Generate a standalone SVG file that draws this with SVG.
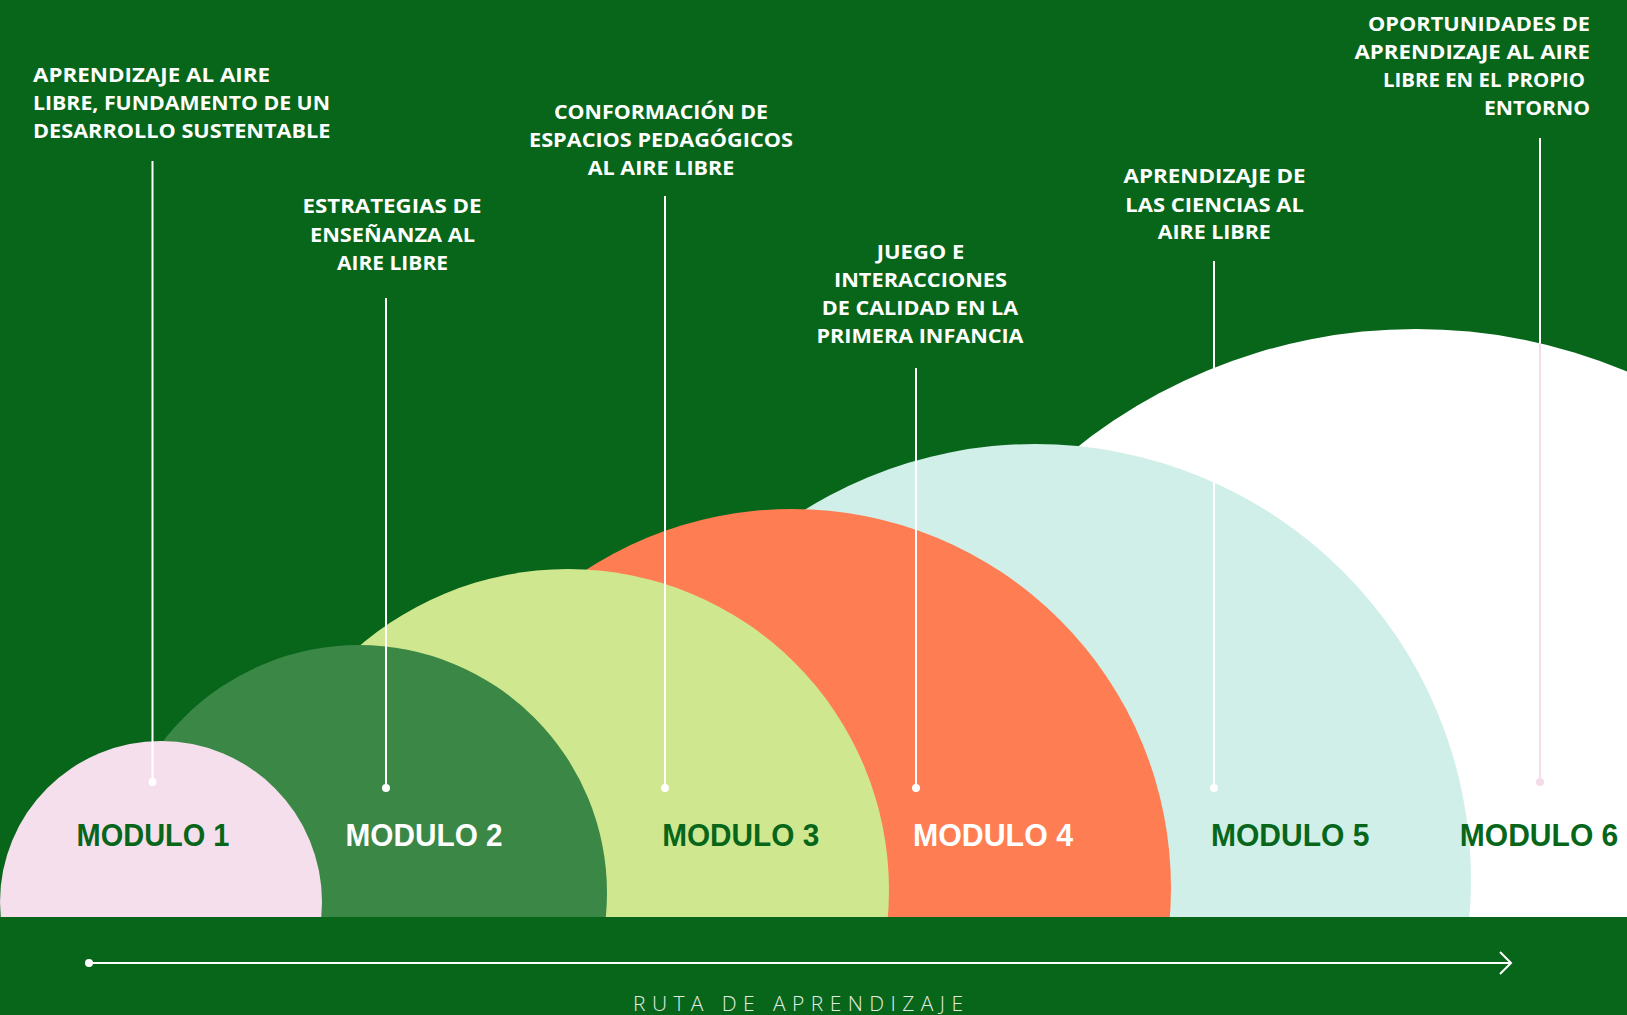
<svg xmlns="http://www.w3.org/2000/svg" width="1627" height="1015" viewBox="0 0 1627 1015">
<style>
.title{fill:#ffffff;font-family:"Open Sans","Liberation Sans",sans-serif;font-weight:700;font-size:20px}
.mod{font-family:"Liberation Sans","Open Sans",sans-serif;font-weight:700;font-size:30.5px}
.dk{fill:#07661a}
.wh{fill:#ffffff}
.lead{stroke:#ffffff;stroke-width:2;fill:none}
.dot{fill:#ffffff}
</style>
<rect x="0" y="0" width="1627" height="1015" fill="#07661a"/>
<g id="modulo-6"><circle cx="1416" cy="874" r="545" fill="#ffffff"/></g>
<g id="modulo-5"><circle cx="1035" cy="880" r="436" fill="#d0efe8"/></g>
<g id="modulo-4"><circle cx="792" cy="888" r="379" fill="#ff7d52"/></g>
<g id="modulo-3"><circle cx="568" cy="890" r="321" fill="#cfe88f"/></g>
<g id="modulo-2"><circle cx="359" cy="893" r="248" fill="#3a8746"/></g>
<g id="modulo-1"><circle cx="161" cy="902" r="161" fill="#f6dfed"/></g>
<rect id="banda" x="0" y="917" width="1627" height="98" fill="#07661a"/>

<g id="connectors">
<line class="lead" x1="152.5" y1="161" x2="152.5" y2="782"/><circle class="dot" cx="152.5" cy="782" r="4"/>
<line class="lead" x1="386" y1="298" x2="386" y2="788"/><circle class="dot" cx="386" cy="788" r="4"/>
<line class="lead" x1="665" y1="196" x2="665" y2="788"/><circle class="dot" cx="665" cy="788" r="4"/>
<line class="lead" x1="916" y1="368" x2="916" y2="788"/><circle class="dot" cx="916" cy="788" r="4"/>
<line class="lead" x1="1214" y1="261" x2="1214" y2="788"/><circle class="dot" cx="1214" cy="788" r="4"/>
<line class="lead" x1="1540" y1="138" x2="1540" y2="343"/>
<line x1="1540" y1="343" x2="1540" y2="782" stroke="#f4dce9" stroke-width="2"/><circle cx="1540" cy="782" r="4" fill="#f4dce9"/>
<circle class="dot" cx="89" cy="963" r="4"/>
<line class="lead" x1="89" y1="963" x2="1510" y2="963"/>
<polyline class="lead" points="1500,952 1511,963 1500,974"/>
</g>

<g id="label-1"><text class="mod dk" x="76.5" y="846" textLength="153" lengthAdjust="spacingAndGlyphs">MODULO 1</text>
<text class="title"><tspan x="33" y="82" textLength="237" lengthAdjust="spacingAndGlyphs">APRENDIZAJE AL AIRE</tspan><tspan x="33" y="110" textLength="297" lengthAdjust="spacingAndGlyphs">LIBRE, FUNDAMENTO DE UN</tspan><tspan x="33" y="138.3" textLength="297.5" lengthAdjust="spacingAndGlyphs">DESARROLLO SUSTENTABLE</tspan></text></g>

<g id="label-2"><text class="mod wh" x="345.6" y="846" textLength="157" lengthAdjust="spacingAndGlyphs">MODULO 2</text>
<text class="title" text-anchor="middle"><tspan x="392" y="213.3" textLength="179" lengthAdjust="spacingAndGlyphs">ESTRATEGIAS DE</tspan><tspan x="392.5" y="241.7" textLength="165" lengthAdjust="spacingAndGlyphs">ENSEÑANZA AL</tspan><tspan x="392.5" y="270" textLength="111" lengthAdjust="spacingAndGlyphs">AIRE LIBRE</tspan></text></g>

<g id="label-3"><text class="mod dk" x="662.2" y="846" textLength="157" lengthAdjust="spacingAndGlyphs">MODULO 3</text>
<text class="title" text-anchor="middle"><tspan x="661" y="119" textLength="214" lengthAdjust="spacingAndGlyphs">CONFORMACIÓN DE</tspan><tspan x="661" y="146.7" textLength="264" lengthAdjust="spacingAndGlyphs">ESPACIOS PEDAGÓGICOS</tspan><tspan x="661" y="175" textLength="146.5" lengthAdjust="spacingAndGlyphs">AL AIRE LIBRE</tspan></text></g>

<g id="label-4"><text class="mod wh" x="913" y="846" textLength="160" lengthAdjust="spacingAndGlyphs">MODULO 4</text>
<text class="title" text-anchor="middle"><tspan x="920.5" y="259" textLength="87.5" lengthAdjust="spacingAndGlyphs">JUEGO E</tspan><tspan x="920.5" y="286.7" textLength="173" lengthAdjust="spacingAndGlyphs">INTERACCIONES</tspan><tspan x="920" y="315" textLength="196.4" lengthAdjust="spacingAndGlyphs">DE CALIDAD EN LA</tspan><tspan x="920" y="343.3" textLength="207" lengthAdjust="spacingAndGlyphs">PRIMERA INFANCIA</tspan></text></g>

<g id="label-5"><text class="mod dk" x="1211" y="846" textLength="158.5" lengthAdjust="spacingAndGlyphs">MODULO 5</text>
<text class="title" text-anchor="middle"><tspan x="1214.6" y="183.3" textLength="182" lengthAdjust="spacingAndGlyphs">APRENDIZAJE DE</tspan><tspan x="1214.6" y="211.7" textLength="178.5" lengthAdjust="spacingAndGlyphs">LAS CIENCIAS AL</tspan><tspan x="1214.3" y="239.3" textLength="113" lengthAdjust="spacingAndGlyphs">AIRE LIBRE</tspan></text></g>

<g id="label-6"><text class="mod dk" x="1459.8" y="846" textLength="158.5" lengthAdjust="spacingAndGlyphs">MODULO 6</text>
<text class="title" text-anchor="end"><tspan x="1590" y="30.7" textLength="222" lengthAdjust="spacingAndGlyphs">OPORTUNIDADES DE</tspan><tspan x="1590" y="59" textLength="235.5" lengthAdjust="spacingAndGlyphs">APRENDIZAJE AL AIRE</tspan><tspan x="1585" y="87.3" textLength="202" lengthAdjust="spacingAndGlyphs">LIBRE EN EL PROPIO</tspan><tspan x="1590" y="115" textLength="106" lengthAdjust="spacingAndGlyphs">ENTORNO</tspan></text></g>

<text id="ruta" x="633" y="1011" textLength="330" lengthAdjust="spacing" font-family="Open Sans, Liberation Sans, sans-serif" font-weight="300" font-size="21" fill="#e3ece3">RUTA DE APRENDIZAJE</text>
</svg>
